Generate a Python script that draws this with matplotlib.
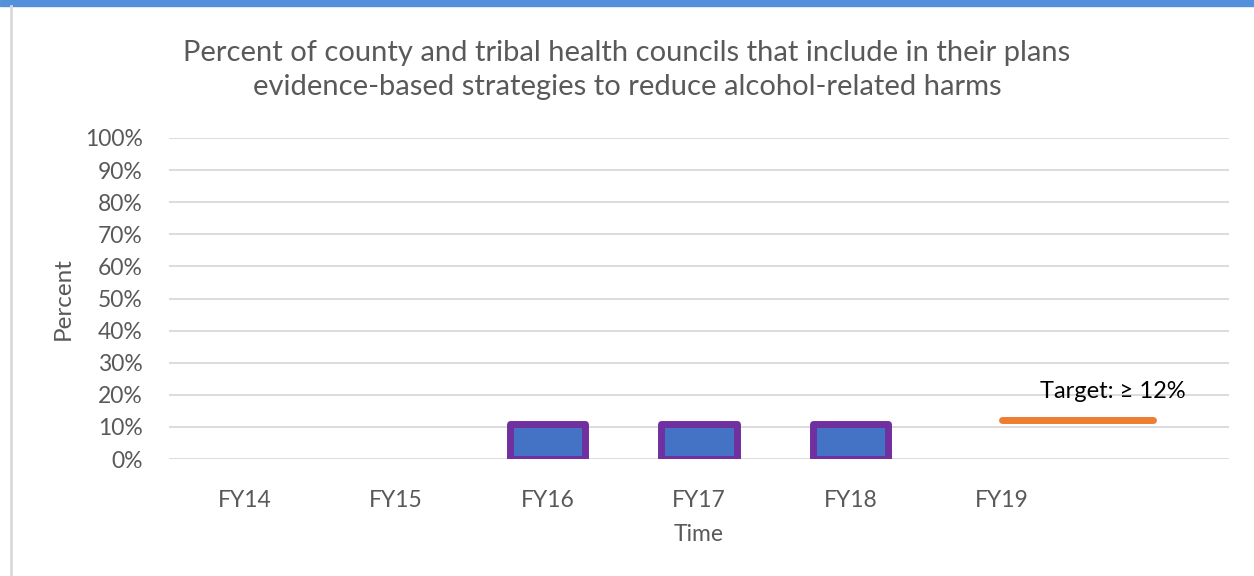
import matplotlib
matplotlib.use("Agg")
import matplotlib.pyplot as plt
from matplotlib.ticker import PercentFormatter
from matplotlib.lines import Line2D

# data
categories = ["FY14", "FY15", "FY16", "FY17", "FY18", "FY19", ""]
actual = [None, None, 0.11, 0.11, 0.11, None, None]
target = [None, None, None, None, None, 0.12, 0.12]
target_label = "Target: \u2265 12%"
title = ("Percent of county and tribal health councils that include in their plans\n"
         "evidence-based strategies to reduce alcohol-related harms")

plt.rcParams['font.family'] = ['Lato', 'DejaVu Sans']

W, H = 1254, 576
fig = plt.figure(figsize=(W / 100, H / 100), dpi=100)

# frame decorations: blue band on top, grey border on the left
fig.patches.append(plt.Rectangle((0, 1 - 6 / H), 1, 6 / H, transform=fig.transFigure,
                                 color='#5590dc', zorder=0))
fig.lines.append(Line2D([11 / W, 11 / W], [0, 1 - 6 / H], transform=fig.transFigure,
                        color='#d9d9d9', lw=2))

ax = fig.add_axes([169 / W, (H - 459) / H, (1229 - 169) / W, (459 - 138) / H])

x = list(range(len(categories)))
bx = [i for i, v in zip(x, actual) if v is not None]
bv = [v for v in actual if v is not None]
ax.bar(bx, bv, width=0.5, color='#4472c4', edgecolor='#7030a0', linewidth=5,
       joinstyle='round', zorder=3)

tx = [i for i, v in zip(x, target) if v is not None]
tv = [v for v in target if v is not None]
ax.plot(tx, tv, color='#ed7d31', lw=5, solid_capstyle='round', zorder=4)
ax.text(5.73, 0.21, target_label, ha='center', va='center', fontsize=17,
        color='#000000', zorder=5)

ax.set_xlim(-0.5, len(categories) - 0.5)
ax.set_ylim(0, 1)
ax.set_yticks([i / 10 for i in range(11)])
ax.yaxis.set_major_formatter(PercentFormatter(1.0, decimals=0))
ax.set_xticks(x)
ax.set_xticklabels(categories)
ax.grid(axis='y', color='#d9d9d9', lw=1.3, zorder=0)
ax.set_axisbelow(True)
for s in ax.spines.values():
    s.set_visible(False)
ax.tick_params(axis='both', length=0, labelsize=16.5, labelcolor='#595959')
ax.tick_params(axis='y', pad=19)
ax.tick_params(axis='x', pad=22)

ax.set_xlabel("Time", fontsize=16.5, color='#595959', labelpad=10)
ax.set_ylabel("Percent", fontsize=17.5, color='#595959', labelpad=8)
fig.text(627 / W, 1 - 70 / H, title, ha='center', va='center', fontsize=21,
         color='#595959', linespacing=1.38)

fig.savefig("out.png", dpi=100)
